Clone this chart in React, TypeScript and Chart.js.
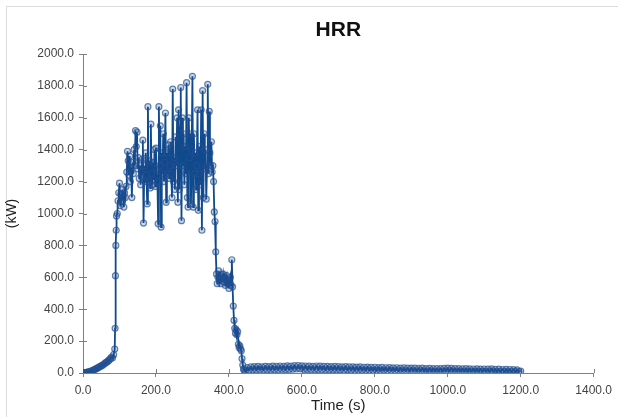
import { useEffect, useRef } from "react";
import { Chart, registerables } from "chart.js";

Chart.register(...registerables);

const TITLE = "HRR";
const X_LABEL = "Time (s)";
const Y_LABEL = "(kW)";

const X_MIN = 0;
const X_MAX = 1400;
const X_STEP = 200;
const Y_MIN = 0;
const Y_MAX = 2000;
const Y_STEP = 200;

// Early growth, sampled every 3 s from t = 0
const START_T0 = 0;
const START_DT = 3;
const START_HRR = [
  0, 2, 3, 4, 5, 6, 8, 10, 13, 16, 20, 23, 27, 30, 34, 38, 42, 46, 50, 55,
  60, 66, 70, 76, 82, 90, 100, 95, 115, 150,
];

// Flashover, sampled every 1 s from t = 88
const RISE_T0 = 88;
const RISE_DT = 1;
const RISE_HRR = [280, 610, 800, 895, 985];

// Fully developed fire, sampled every 2 s from t = 94
const FIRE_T0 = 94;
const FIRE_DT = 2;
const FIRE_HRR = [
  1000, 1080, 1130, 1190, 1050, 1120, 1080, 1150, 1100, 1040,
  1130, 1100, 1170, 1260, 1390, 1330, 1240, 1360, 1200, 1290,
  1100, 1320, 1250, 1400, 1300, 1520, 1420, 1510, 1280, 1350,
  1220, 1300, 1180, 1260, 1340, 1460, 940, 1300, 1200, 1380,
  1240, 1060, 1670, 1200, 1330, 1160, 1560, 1250, 1180, 1320,
  1210, 1400, 1170, 1410, 1280, 1200, 935, 1670, 1300, 1550,
  915, 1380, 1250, 1500, 1200, 1320, 1630, 1070, 1380, 1250,
  1430, 1220, 1300, 1450, 1250, 1100, 1780, 1200, 1350, 1150,
  1480, 1300, 1600, 1070, 1650, 1150, 1540, 1790, 955, 1600,
  1300, 1500, 1180, 1420, 1250, 1820, 1100, 1040, 1600, 1350,
  1500, 1060, 1400, 1860, 1040, 1500, 1250, 1380, 1150, 1300,
  1650, 1020, 1250, 1420, 1180, 1650, 895, 1770, 1100, 1500,
  1280, 1400, 1090, 1300, 1810, 1250, 1640, 1380, 1300, 1450,
  1260, 1300, 1200, 1010,
];

// Decay, sampled every 2 s from t = 362
const DECAY_T0 = 362;
const DECAY_DT = 2;
const DECAY_HRR = [
  950, 760, 620, 560, 600, 640, 580, 610, 560, 600,
  590, 620, 570, 600, 550, 590, 610, 560, 580, 530,
  570, 600, 550, 710, 540, 420, 330, 280, 250, 270,
  240, 260, 180, 160, 170, 150, 140, 90, 50, 25, 18,
];

// Smouldering tail, sampled every 5 s from t = 445
const TAIL_T0 = 445;
const TAIL_DT = 5;
const TAIL_HRR = [
  10, 34, 18, 38, 20, 40, 19, 41, 22, 39, 20,
  42, 21, 40, 19, 43, 22, 41, 20, 44, 23, 42, 21, 45, 22, 43, 24, 46, 25, 47, 26,
  45, 23, 44, 21, 43, 22, 42, 20, 44, 21, 43, 22, 41, 20, 42, 21, 40, 19, 41, 20,
  40, 19, 39, 18, 40, 19, 38, 18, 39, 17, 37, 18, 38, 17, 36, 16, 37, 17, 35, 16,
  36, 16, 34, 15, 35, 16, 33, 14, 34, 15, 32, 14, 33, 13, 31, 14, 32, 13, 30, 12,
  31, 13, 30, 12, 29, 13, 30, 12, 28, 11, 29, 12, 28, 11, 27, 12, 28, 11, 29, 12,
  30, 13, 29, 12, 28, 11, 27, 12, 26, 11, 27, 10, 26, 11, 25, 10, 26, 11, 24, 10,
  25, 11, 24, 10, 26, 11, 23, 9, 24, 10, 22, 9, 23, 8, 22, 9, 21, 8, 20, 9,
  12,
];

const SEGMENTS: [number, number, number[]][] = [
  [START_T0, START_DT, START_HRR],
  [RISE_T0, RISE_DT, RISE_HRR],
  [FIRE_T0, FIRE_DT, FIRE_HRR],
  [DECAY_T0, DECAY_DT, DECAY_HRR],
  [TAIL_T0, TAIL_DT, TAIL_HRR],
];

const FONT = "'Liberation Sans', Arial, Helvetica, sans-serif";
const AXIS_COLOR = "#808080";

const titlePlugin = {
  id: "hrrTitle",
  afterDraw(chart: any) {
    const { ctx, chartArea } = chart;
    ctx.save();
    ctx.font = `bold 21px ${FONT}`;
    ctx.fillStyle = "#111";
    ctx.textAlign = "center";
    ctx.textBaseline = "alphabetic";
    ctx.fillText(TITLE, (chartArea.left + chartArea.right) / 2, 36);
    ctx.restore();
  },
};

const innerTicksPlugin = {
  id: "innerTicks",
  beforeDatasetsDraw(chart: any) {
    const { ctx, chartArea, scales } = chart;
    ctx.save();
    ctx.strokeStyle = AXIS_COLOR;
    ctx.lineWidth = 1;
    ctx.beginPath();
    scales.x.ticks.forEach((t: any) => {
      const px = Math.round(scales.x.getPixelForValue(t.value)) + 0.5;
      ctx.moveTo(px, chartArea.bottom);
      ctx.lineTo(px, chartArea.bottom - 4);
    });
    scales.y.ticks.forEach((t: any) => {
      const py = Math.round(scales.y.getPixelForValue(t.value)) + 0.5;
      ctx.moveTo(chartArea.left, py);
      ctx.lineTo(chartArea.left + 4, py);
    });
    ctx.stroke();
    ctx.restore();
  },
};

export default function App() {
  const canvasRef = useRef<HTMLCanvasElement | null>(null);

  useEffect(() => {
    const canvas = canvasRef.current;
    if (!canvas) return;
    const points: { x: number; y: number }[] = [];
    SEGMENTS.forEach(([t0, dt, values]) => {
      values.forEach((v, i) => points.push({ x: t0 + i * dt, y: v }));
    });

    const chart = new Chart(canvas, {
      type: "line",
      data: {
        datasets: [
          {
            data: points,
            borderColor: "#0f4a8c",
            borderWidth: 1.8,
            tension: 0,
            pointRadius: 3,
            pointBorderWidth: 1.2,
            pointBorderColor: "rgba(35,80,145,0.7)",
            pointBackgroundColor: "rgba(25,75,145,0.22)",
            fill: false,
          },
        ],
      },
      options: {
        responsive: false,
        animation: false,
        devicePixelRatio: 1,
        layout: { padding: { top: 54, right: 20, left: 0, bottom: 0 } },
        plugins: {
          legend: { display: false },
          tooltip: { enabled: false },
          title: { display: false },
        },
        scales: {
          x: {
            type: "linear",
            min: X_MIN,
            max: X_MAX,
            afterFit: (s: any) => {
              s.height = 44;
            },
            ticks: {
              stepSize: X_STEP,
              color: "#444",
              padding: 6,
              maxRotation: 0,
              font: { family: FONT, size: 12 },
              callback: (v: any) => Number(v).toFixed(1),
            },
            grid: {
              display: true,
              drawOnChartArea: false,
              drawTicks: true,
              tickLength: 4,
              color: AXIS_COLOR,
            },
            border: { display: true, color: AXIS_COLOR, width: 1 },
            title: {
              display: true,
              text: X_LABEL,
              color: "#222",
              font: { family: FONT, size: 15 },
              padding: { top: 0, bottom: 2 },
            },
          },
          y: {
            type: "linear",
            min: Y_MIN,
            max: Y_MAX,
            afterFit: (s: any) => {
              s.width = 83;
            },
            ticks: {
              stepSize: Y_STEP,
              color: "#444",
              padding: 5,
              font: { family: FONT, size: 12 },
              callback: (v: any) => Number(v).toFixed(1),
            },
            grid: {
              display: true,
              drawOnChartArea: false,
              drawTicks: true,
              tickLength: 4,
              color: AXIS_COLOR,
            },
            border: { display: true, color: AXIS_COLOR, width: 1 },
            title: {
              display: true,
              text: Y_LABEL,
              color: "#222",
              font: { family: FONT, size: 14 },
              padding: { top: 4, bottom: 0 },
            },
          },
        },
      },
      plugins: [titlePlugin, innerTicksPlugin],
    });
    return () => chart.destroy();
  }, []);

  return (
    <div style={{ position: "fixed", left: 0, top: 0, width: 618, height: 417, background: "#fff", overflow: "hidden" }}>
      <div
        style={{
          position: "absolute",
          left: 6,
          top: 6,
          width: 640,
          height: 440,
          borderTop: "1px solid #dcdcdc",
          borderLeft: "1px solid #dcdcdc",
        }}
      />
      <canvas
        ref={canvasRef}
        width={618}
        height={417}
        style={{ position: "absolute", left: 0, top: 0, display: "block" }}
      />
    </div>
  );
}
